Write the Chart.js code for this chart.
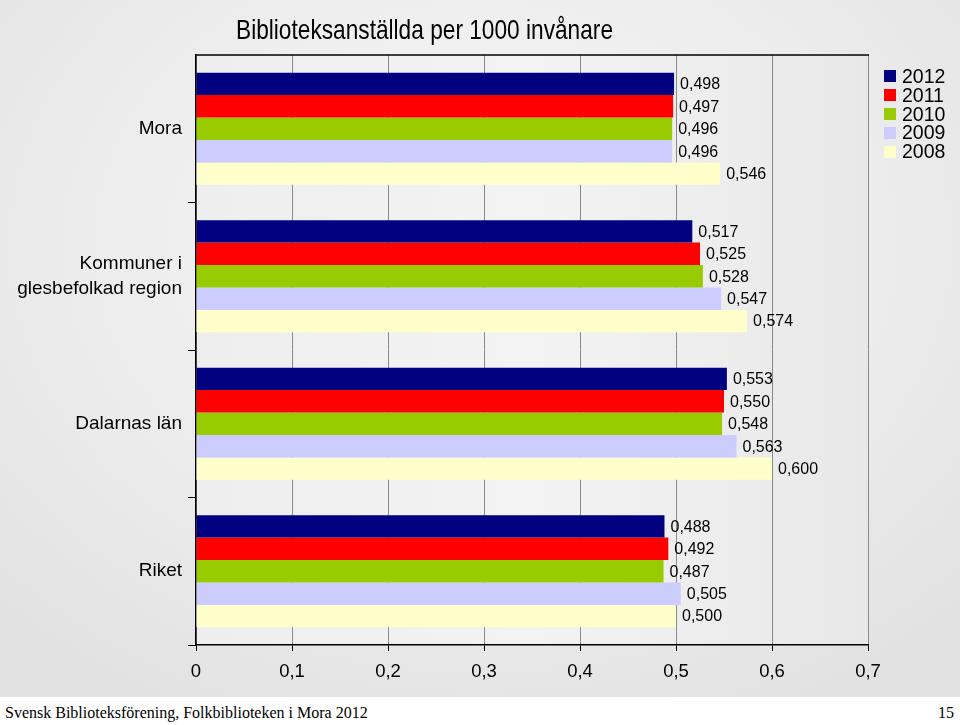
<!DOCTYPE html>
<html>
<head>
<meta charset="utf-8">
<script src="https://cdn.jsdelivr.net/npm/chart.js@4/dist/chart.umd.min.js"></script>
<style>
  html, body { margin: 0; padding: 0; }
  body { width: 960px; height: 725px; position: relative; overflow: hidden; background: #ffffff; font-family: "Liberation Sans", Arial, sans-serif; }
  #slide { position: absolute; left: 0; top: 0; width: 960px; height: 697px;
    background: radial-gradient(ellipse 70% 75% at 50% 35%, #f7f7f7 0%, #ececec 60%, #e2e2e2 100%); }
  #chartWrap { position: absolute; left: 0; top: 0; width: 960px; height: 695px; }
  #title { position: absolute; left: 236px; top: 16px; font-size: 28px; line-height: 28px; white-space: nowrap;
    color: #000; transform: scaleX(0.81); transform-origin: 0 0; }
  #legend { position: absolute; left: 884px; top: 67px; }
  .li { height: 18.8px; display: flex; align-items: center; font-size: 19.5px; color: #000; white-space: nowrap; }
  .sw { width: 12px; height: 12px; margin-right: 6px; }
  #footer { position: absolute; left: 0; top: 697px; width: 960px; height: 28px; background: #fff;
    font-family: "Liberation Serif", "Times New Roman", serif; font-size: 16px; color: #000; }
  #footL { position: absolute; left: 5px; top: 7px; white-space: nowrap; }
  #footR { position: absolute; right: 6px; top: 7px; }
</style>
</head>
<body>
<div id="slide"></div>
<div id="chartWrap"><canvas id="c" width="960" height="695"></canvas></div>
<div id="title">Biblioteksanställda per 1000 invånare</div>
<div id="legend"></div>
<div id="footer"><span id="footL">Svensk Biblioteksförening, Folkbiblioteken i Mora 2012</span><span id="footR">15</span></div>
<script>
// ---- data ----
const categories = ['Mora', ['Kommuner i', 'glesbefolkad region'], 'Dalarnas län', 'Riket'];
const seriesNames = ['2012', '2011', '2010', '2009', '2008'];
const v2012 = [0.498, 0.517, 0.553, 0.488];
const v2011 = [0.497, 0.525, 0.550, 0.492];
const v2010 = [0.496, 0.528, 0.548, 0.487];
const v2009 = [0.496, 0.547, 0.563, 0.505];
const v2008 = [0.546, 0.574, 0.600, 0.500];
const xTicks = [0, 0.1, 0.2, 0.3, 0.4, 0.5, 0.6, 0.7];
const seriesColors = ['#000080', '#FF0000', '#99CC00', '#CCCCFF', '#FFFFCC'];
const seriesValues = [v2012, v2011, v2010, v2009, v2008];

// ---- legend (HTML) ----
const legendEl = document.getElementById('legend');
seriesNames.forEach((n, i) => {
  const row = document.createElement('div');
  row.className = 'li';
  const sw = document.createElement('span');
  sw.className = 'sw';
  sw.style.background = seriesColors[i];
  row.appendChild(sw);
  row.appendChild(document.createTextNode(n));
  legendEl.appendChild(row);
});

const fmt3 = v => v.toFixed(3).replace('.', ',');
const fmt1 = v => (v === 0 ? '0' : v.toFixed(1).replace('.', ','));

const plotBg = {
  id: 'plotBg',
  beforeDatasetsDraw(chart) {
    const { ctx, chartArea: a } = chart;
    ctx.save();
    const g = ctx.createLinearGradient(a.left, 0, a.right, 0);
    g.addColorStop(0, '#eeeeee');
    g.addColorStop(0.5, '#f3f3f3');
    g.addColorStop(1, '#e8e8e8');
    ctx.globalCompositeOperation = 'destination-over';
    ctx.fillStyle = g;
    ctx.fillRect(a.left, a.top, a.right - a.left, a.bottom - a.top);
    ctx.restore();
  },
  afterDraw(chart) {
    const { ctx, chartArea: a } = chart;
    ctx.save();
    ctx.strokeStyle = '#000';
    ctx.lineWidth = 1.5;
    ctx.beginPath();
    ctx.moveTo(a.left, a.top);
    ctx.lineTo(a.right + 1, a.top);
    ctx.stroke();
    ctx.restore();
  }
};

const valueLabels = {
  id: 'valueLabels',
  afterDatasetsDraw(chart) {
    const { ctx } = chart;
    ctx.save();
    ctx.font = '16px "Liberation Sans", Arial, sans-serif';
    ctx.fillStyle = '#000';
    ctx.textBaseline = 'middle';
    ctx.textAlign = 'left';
    chart.data.datasets.forEach((ds, di) => {
      const meta = chart.getDatasetMeta(di);
      meta.data.forEach((el, i) => {
        ctx.fillText(fmt3(ds.data[i]), el.x + 6, el.y + 1);
      });
    });
    ctx.restore();
  }
};

new Chart(document.getElementById('c'), {
  type: 'bar',
  data: {
    labels: categories,
    datasets: seriesNames.map((n, i) => ({
      label: n,
      data: seriesValues[i],
      backgroundColor: seriesColors[i],
      borderWidth: 0,
      categoryPercentage: 0.76,
      barPercentage: 1.0
    }))
  },
  options: {
    indexAxis: 'y',
    responsive: false,
    animation: false,
    layout: { padding: { top: 55, right: 92, left: 0, bottom: 0 } },
    plugins: { legend: { display: false }, title: { display: false }, tooltip: { enabled: false } },
    scales: {
      x: {
        min: 0, max: 0.7,
        afterBuildTicks(scale) { scale.ticks = xTicks.map(v => ({ value: v })); },
        afterFit(scale) { scale.height = 50; },
        ticks: {
          callback: v => fmt1(v),
          font: { family: '"Liberation Sans", Arial, sans-serif', size: 18.5 },
          color: '#000',
          padding: 10,
          maxRotation: 0
        },
        grid: { color: '#8a8a8a', lineWidth: 1, tickColor: '#000', tickLength: 6 },
        border: { color: '#000', width: 1.5 }
      },
      y: {
        afterFit(scale) { scale.width = 196; },
        ticks: {
          font: { family: '"Liberation Sans", Arial, sans-serif', size: 19, lineHeight: 1.3 },
          color: '#000',
          padding: 6
        },
        grid: {
          offset: true, drawOnChartArea: false, tickLength: 8, lineWidth: 1,
          color: ctx => (ctx.index === 0 ? 'rgba(0,0,0,0)' : '#000')
        },
        border: { color: '#000', width: 1.5 }
      }
    }
  },
  plugins: [plotBg, valueLabels]
});
</script>
</body>
</html>
